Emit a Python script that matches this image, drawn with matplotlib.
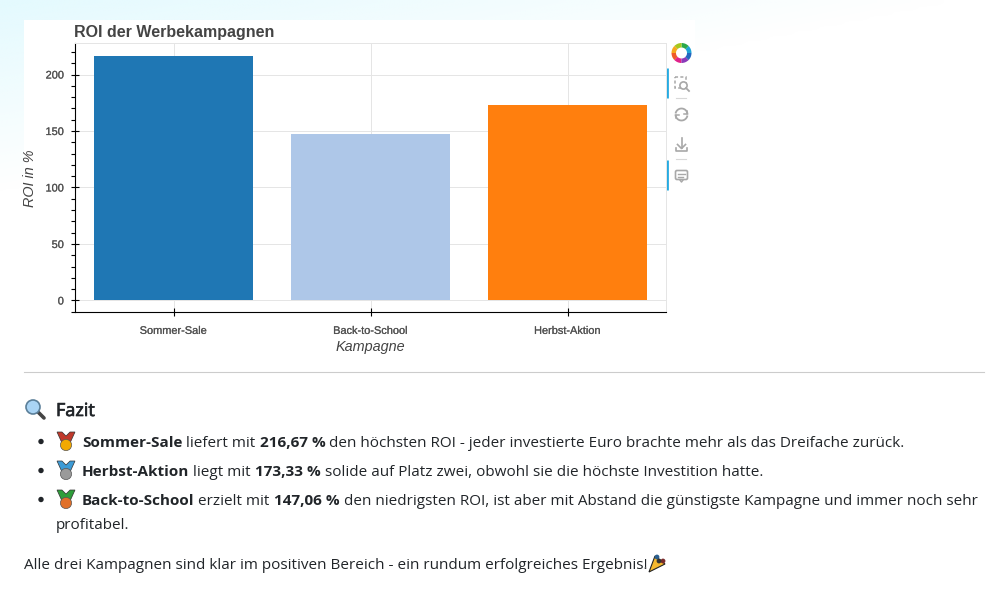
import numpy as np
import matplotlib
matplotlib.use("Agg")
import matplotlib.pyplot as plt
import matplotlib.patheffects as pe
from matplotlib.patches import Circle, Polygon, Wedge, Rectangle, FancyBboxPatch
from matplotlib.ticker import MultipleLocator

categories = ["Sommer-Sale", "Back-to-School", "Herbst-Aktion"]
roi_values = [216.67, 147.06, 173.33]
bar_colors = ["#1f77b4", "#aec7e8", "#ff7f0e"]
y_ticks = [0, 50, 100, 150, 200]

title = "ROI der Werbekampagnen"
x_label = "Kampagne"
y_label = "ROI in %"
heading = "Fazit"
bullets = [
    [[("Sommer-Sale", True), (" liefert mit ", False), ("216,67 %", True),
      (" den höchsten ROI - jeder investierte Euro brachte mehr als das Dreifache zurück.", False)]],
    [[("Herbst-Aktion", True), (" liegt mit ", False), ("173,33 %", True),
      (" solide auf Platz zwei, obwohl sie die höchste Investition hatte.", False)]],
    [[("Back-to-School", True), (" erzielt mit ", False), ("147,06 %", True),
      (" den niedrigsten ROI, ist aber mit Abstand die günstigste Kampagne und immer noch sehr", False)],
     [("profitabel.", False)]],
]
closing = "Alle drei Kampagnen sind klar im positiven Bereich - ein rundum erfolgreiches Ergebnis!"
medal_colors = [("#c0392b", "#f2a900"), ("#3d9bd6", "#9a9a9a"), ("#2e9e3a", "#e0702a")]

W, H = 1001, 592
fig = plt.figure(figsize=(W / 100, H / 100), dpi=100, facecolor="white")

# page layer in pixel coordinates
bg = fig.add_axes([0, 0, 1, 1], zorder=0)
bg.set_xlim(0, W); bg.set_ylim(H, 0); bg.axis("off")
yy, xx = np.mgrid[0:H:120j, 0:W:200j]
rgba = np.zeros(xx.shape + (4,))
rgba[..., :3] = matplotlib.colors.to_rgb("#e4fafe")
rgba[..., 3] = np.clip(1 - xx / 950 - yy / 190, 0, 1)
bg.imshow(rgba, extent=(0, W, H, 0), aspect="auto", interpolation="bilinear", zorder=0)
bg.set_xlim(0, W); bg.set_ylim(H, 0)
bg.add_patch(Rectangle((24, 20), 671, 340, fc="white", ec="none", zorder=1))
bg.plot([24, 984], [372, 372], color="#cccccc", lw=0.8, zorder=1)

# chart
ax = fig.add_axes([75 / W, 1 - 312 / H, (666 - 75) / W, (312 - 43) / H], zorder=2)
ax.patch.set_alpha(0)
x = np.arange(len(categories))
ax.bar(x, roi_values, width=0.805, color=bar_colors, edgecolor="none", zorder=3)
ax.set_xlim(-0.5, 2.5)
ax.set_ylim(-10.2, 227.9)
ax.set_xticks(x, categories)
ax.set_yticks(y_ticks)
ax.yaxis.set_minor_locator(MultipleLocator(10))
ax.grid(True, color="#e5e5e5", lw=0.72, zorder=0)
ax.set_axisbelow(True)
for s in ("top", "right"):
    ax.spines[s].set_color("#e5e5e5"); ax.spines[s].set_linewidth(0.72)
for s in ("left", "bottom"):
    ax.spines[s].set_color("black"); ax.spines[s].set_linewidth(0.8)
CH = "Liberation Sans"
ax.tick_params(axis="both", which="major", direction="inout", length=6, width=0.8, color="black",
               labelcolor="#505050", labelsize=7.9)
ax.tick_params(axis="y", which="major", pad=5)
ax.tick_params(axis="x", which="major", pad=7)
ax.tick_params(axis="y", which="minor", direction="out", length=3, width=0.8, color="black")
semi = [pe.withStroke(linewidth=0.2, foreground="#777777")]
for t in ax.get_xticklabels() + ax.get_yticklabels():
    t.set_fontfamily(CH); t.set_path_effects(semi)

bg.text(74.5, 32, title, fontsize=11.55, fontweight="bold", family=CH, color="#444444", va="center", ha="left", zorder=5)
bg.text(370.5, 347, x_label, fontsize=10.4, style="italic", family=CH, color="#444444", ha="center", va="center", zorder=5)
bg.text(30.5, 178, y_label, fontsize=10.4, style="italic", family=CH, color="#444444", rotation=90, ha="center", va="center", zorder=5)

# text section
BODY = "Open Sans"
FS = 11.0
INK = "#212529"
renderer = fig.canvas.get_renderer()

def runs(x0, y0, parts, size=FS):
    cur = x0
    for s, bold in parts:
        w = "bold" if bold else "normal"
        lead = len(s) - len(s.lstrip(" "))
        trail = len(s) - len(s.rstrip(" "))
        sp = bg.text(0, 0, "n n", fontsize=size, family=BODY, fontweight=w)
        sq = bg.text(0, 0, "nn", fontsize=size, family=BODY, fontweight=w)
        space = sp.get_window_extent(renderer).width - sq.get_window_extent(renderer).width
        sp.remove(); sq.remove()
        cur += lead * space
        t = bg.text(cur, y0, s.strip(" "), fontsize=size, family=BODY, color=INK,
                    fontweight=w, va="baseline", ha="left", zorder=5)
        cur += t.get_window_extent(renderer).width + trail * space
    return cur

def medal(cx, cy, ribbon, disc):
    bg.add_patch(Polygon([(cx - 9, cy - 9), (cx - 4, cy - 9), (cx, cy - 5), (cx + 4, cy - 9), (cx + 9, cy - 9),
                          (cx + 4, cy + 2), (cx - 4, cy + 2)], fc=ribbon, ec="#333333", lw=0.5, zorder=5))
    bg.add_patch(Circle((cx, cy + 4), 5.6, fc=disc, ec="#555555", lw=0.5, zorder=6))

def lens(cx, cy):
    bg.plot([cx + 4, cx + 11], [cy + 4, cy + 11], color="#444444", lw=2.6, solid_capstyle="round", zorder=5)
    bg.add_patch(Circle((cx, cy), 7, fc="#a9d4f5", ec="#5b7f99", lw=1.2, zorder=6))

lens(33, 407)
bg.text(56, 416, heading, fontsize=13, family=BODY, color=INK, va="baseline", zorder=5,
        path_effects=[pe.withStroke(linewidth=0.5, foreground=INK)])

line_y = [447, 476, 505, 529]
i = 0
for b, (rib, disc) in zip(bullets, medal_colors):
    bg.add_patch(Circle((41, line_y[i] - 5.5), 2.7, fc=INK, ec="none", zorder=5))
    medal(66, line_y[i] - 6, rib, disc)
    for j, parts in enumerate(b):
        runs(82 if j == 0 else 56, line_y[i], parts)
        i += 1

bg.text(24, 569, closing, fontsize=FS, family=BODY, color=INK, va="baseline", zorder=5)
# party popper
bg.add_patch(Polygon([(649, 572), (665, 564), (655, 556)], fc="#f5b82e", ec="#222222", lw=0.8, zorder=5))
for px, py, c in [(657, 557, "#2a5f8f"), (663, 561, "#7a2b2b"), (659, 561, "#333333")]:
    bg.add_patch(Circle((px, py), 2.4, fc=c, ec="none", zorder=6))

# toolbar
cx, cy = 681.5, 53
ring = ["#1fa3d6", "#2aa84a", "#a6c81e", "#f5a81f", "#ef5a2a", "#e0218a", "#8a3ab9", "#2266c0"]
for k, c in enumerate(ring):
    bg.add_patch(Wedge((cx, cy), 10, -k * 45 - 45, -k * 45, width=4.5, fc=c, ec="none", zorder=5))
for y0, y1 in [(68, 98), (160, 190)]:
    bg.plot([667, 667], [y0, y1], color="#26aae1", lw=2, solid_capstyle="butt", zorder=5)
IC = "#a8a8a8"
for yy0 in (98, 159):
    bg.plot([676, 686], [yy0, yy0], color="#d8d8d8", lw=0.8, zorder=5)
# box zoom
bg.add_patch(Rectangle((675, 77), 11, 11, fc="none", ec=IC, lw=1.1, ls=(0, (2, 1.5)), zorder=5))
bg.add_patch(Circle((683.5, 85.5), 3.6, fc="white", ec=IC, lw=1.2, zorder=6))
bg.plot([686, 689], [88, 91], color=IC, lw=1.3, zorder=6)
# reset
for a0, a1, tip in [(0.55, 0.98, 0), (0.05, 0.48, 1)]:
    th = np.linspace(a0, a1, 30) * 2 * np.pi
    px, py = 681.5 + 6 * np.cos(th), 114.5 + 6 * np.sin(th)
    bg.plot(px, py, color=IC, lw=1.3, zorder=5)
    bg.plot([px[-1] - 3 if tip == 0 else px[-1] + 3, px[-1], px[-1]],
            [py[-1], py[-1], py[-1] - 3 if tip == 0 else py[-1] + 3], color=IC, lw=1.1, zorder=5)
# save
bg.plot([681.5, 681.5], [138, 148], color=IC, lw=1.2, zorder=5)
bg.plot([677.5, 681.5, 685.5], [144.5, 148.5, 144.5], color=IC, lw=1.2, zorder=5)
bg.plot([676, 676, 687, 687], [148, 151, 151, 148], color=IC, lw=1.2, zorder=5)
# hover
bg.add_patch(FancyBboxPatch((676, 171), 11, 8, boxstyle="round,pad=0.5,rounding_size=1.5", fc="none", ec=IC, lw=1.2, zorder=5))
bg.plot([678, 685], [174, 174], color=IC, lw=1, zorder=5)
bg.plot([678, 683], [176.5, 176.5], color=IC, lw=1, zorder=5)
bg.plot([680, 681.5, 683], [180, 182, 180], color=IC, lw=1.1, zorder=5)

bg.set_xlim(0, W); bg.set_ylim(H, 0)
fig.savefig("out.png", dpi=100, facecolor="white")
